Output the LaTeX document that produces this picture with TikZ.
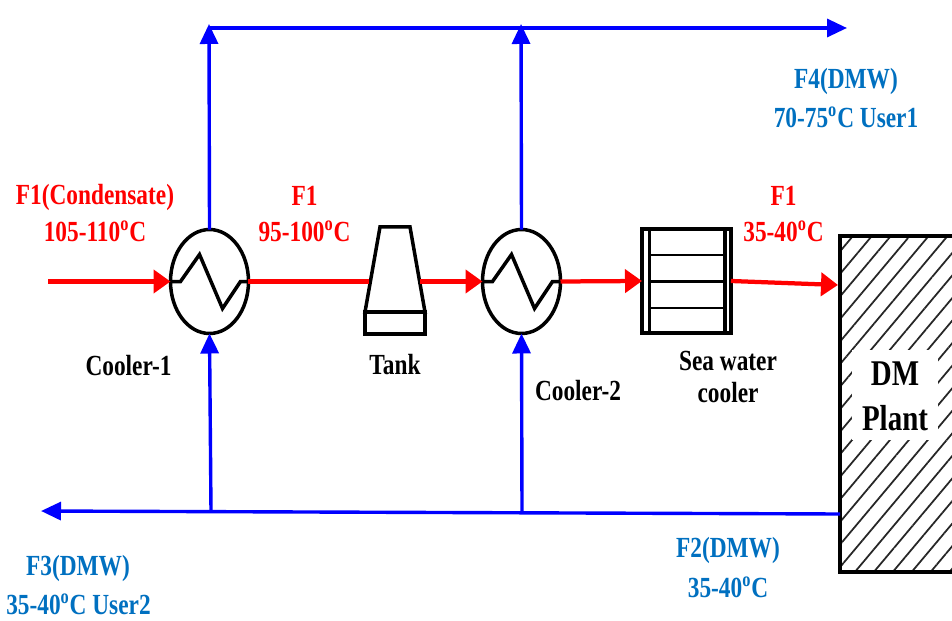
\documentclass[tikz,border=0pt]{standalone}
\usepackage{fontspec}
\setmainfont[FakeStretch=0.8]{Liberation Serif}
\usetikzlibrary{arrows.meta,positioning,calc,shapes.geometric,patterns.meta}
\definecolor{dmwblue}{RGB}{0,112,192}
\tikzset{
    every picture/.style={line width=0.75pt},
    hotline/.style={red,line width=0.085cm,-{Triangle[length=0.34cm,width=0.46cm]}},
    coldline/.style={blue,line width=0.068cm,-{Triangle[length=0.4cm,width=0.36cm]}},
    unit/.style={black,line width=0.07cm,line join=miter},
    cooler/.style={draw,unit,ellipse,fill=white,inner sep=0pt,outer sep=0pt,minimum width=1.56cm,minimum height=2.08cm},
    hotlabel/.style={red,font=\bfseries\fontsize{16.6}{18}\selectfont,inner sep=0pt},
    dmwlabel/.style={dmwblue,font=\bfseries\fontsize{16.6}{18}\selectfont,inner sep=0pt},
    unitlabel/.style={black,font=\bfseries\fontsize{16.6}{18}\selectfont,inner sep=0pt}
}
\newcommand{\degC}{\textsuperscript{o}C}

\begin{document}
\begin{tikzpicture}[x=0.02cm,y=-0.02cm]
    \clip (0,0) rectangle (952,621);
    \fill[white] (0,0) rectangle (952,621);

    % === DM plant ===
    \node (plant) [draw,unit,line width=0.08cm,anchor=north west,inner sep=0pt,outer sep=0pt,minimum width=2.6cm,minimum height=6.72cm,
        pattern={Lines[angle=50,distance=0.29cm,line width=0.035cm]},pattern color=black!85] at (840,236) {};
    \fill[white] (852,350) rectangle (938,440);
    \node[unitlabel,font=\bfseries\fontsize{20.6}{24}\selectfont] (dm) at (895,374) {DM};
    \node[unitlabel,font=\bfseries\fontsize{20.6}{24}\selectfont] (dmplant) at (895,418) {Plant};

    % === coolers ===
    \node (cool1) [cooler] at (209.5,281.5) {};
    \node (cool2) [cooler] at (521.5,281.5) {};
    \foreach \c in {cool1,cool2} {
        \draw[unit] (\c.west) -- ++(10,0) -- ++(19,-27) -- ++(23,54) -- ++(18,-27) -- (\c.east);
    }

    % === tank ===
    \draw[unit] (380,227) -- (410,227) -- (425,312) -- (365,312) -- cycle;
    \draw[unit] (365,312) rectangle (425,334);
    \coordinate (tankin) at (369,281.5);
    \coordinate (tankout) at (420,281.5);

    % === sea water cooler ===
    \node (sea) [draw,unit,anchor=north west,inner sep=0pt,outer sep=0pt,minimum width=1.78cm,minimum height=2.08cm] at (642,229) {};
    \draw[unit] (649.5,229) -- (649.5,333);
    \draw[unit] (725,229) -- (725,333);
    \draw[unit,line width=0.05cm] (649.5,255) -- (725,255);
    \draw[unit] (649.5,281.5) -- (725,281.5);
    \draw[unit,line width=0.05cm] (649.5,308) -- (725,308);

    % === hot stream ===
    \coordinate (hotstart) at (48,281.5);
    \coordinate (plantin) at (838,285);
    \draw[hotline] (hotstart) -- (cool1.west);
    \draw[hotline,-] (cool1.east) -- (tankin);
    \draw[hotline] (tankout) -- (cool2.west);
    \draw[hotline] (cool2.east) -- (sea.west);
    \draw[hotline] (sea.east) -- (plantin);

    % === cold stream ===
    \coordinate (topleft) at (209,28);
    \coordinate (topend) at (847,28);
    \coordinate (botend) at (41,511);
    \coordinate (bot1) at (211,511.5);
    \coordinate (bot2) at (522,513);
    \coordinate (plantout) at (840,514);
    \draw[coldline] (topleft) -- (topend);
    \draw[coldline] (cool1.north) -- (209,24);
    \draw[coldline] (cool2.north) -- (521,24);
    \draw[coldline] (plantout) -- (botend);
    \draw[coldline] (bot1) -- (cool1.south);
    \draw[coldline] (bot2) -- (cool2.south);

    % Labels
    \node[hotlabel] (l1) at (95,197) {F1(Condensate)};
    \node[hotlabel] (l2) at (95,231) {105-110\degC};
    \node[hotlabel] (l3) at (304.5,195.5) {F1};
    \node[hotlabel] (l4) at (304.5,231) {95-100\degC};
    \node[hotlabel] (l5) at (783.5,195.5) {F1};
    \node[hotlabel] (l6) at (783.5,231) {35-40\degC};
    \node[dmwlabel] (l7) at (846,81) {F4(DMW)};
    \node[dmwlabel] (l8) at (846,117) {70-75\degC\ User1};
    \node[dmwlabel] (l9) at (78,568) {F3(DMW)};
    \node[dmwlabel] (l10) at (78.5,604) {35-40\degC\ User2};
    \node[dmwlabel] (l11) at (728,550) {F2(DMW)};
    \node[dmwlabel] (l12) at (728,587) {35-40\degC};
    \node[unitlabel] (l13) at (128.5,366) {Cooler-1};
    \node[unitlabel] (l14) at (395,365) {Tank};
    \node[unitlabel] (l15) at (578,391) {Cooler-2};
    \node[unitlabel] (l16) at (728,361) {Sea water};
    \node[unitlabel] (l17) at (728,393) {cooler};
\end{tikzpicture}
\end{document}
